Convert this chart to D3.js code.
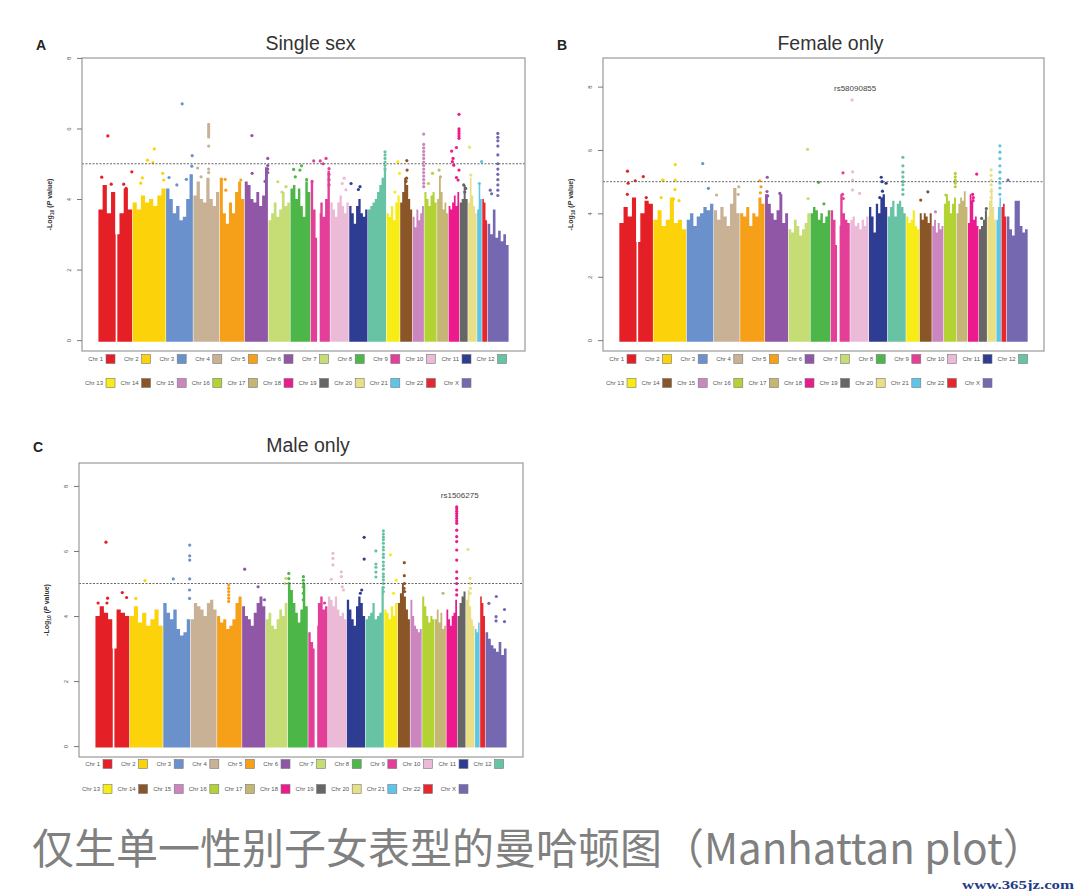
<!DOCTYPE html>
<html>
<head>
<meta charset="utf-8">
<script src="https://cdn.jsdelivr.net/npm/d3@7"></script>
<style>
  body { margin: 0; background: #fff; }
  svg { display: block; }
</style>
</head>
<body>
<svg id="fig" width="1080" height="891"></svg>
<script>
// chromosomes (hg19, Mb)
var chrNames = ["1","2","3","4","5","6","7","8","9","10","11","12","13","14","15","16","17","18","19","20","21","22","X"];
var chrLength = [249.25,243.2,198.0,191.15,180.9,171.1,159.1,146.4,141.2,135.5,135.0,133.85,115.2,107.35,102.5,90.35,81.2,78.1,59.1,63.0,48.1,51.3,155.3];
var chrStart = [0.5,0.5,0.5,0.5,0.5,0.5,0.5,0.5,0.5,0.5,0.5,0.5,19.0,19.05,20.0,0.5,0.5,0.5,0.5,0.5,14.5,16.0,0.5];
var chrGaps = [[1,128,140],[9,47,66]];
var yTicks = [0,2,4,6,8];
var threshold = 5;

// colours of the chromosomes (legend order)
var chrColors = ["#e41f26","#fcd20a","#6a91cc","#c8b194","#f6a01a","#8f57a5","#c6dc74","#4cb648","#e33f98","#ebbad7","#2e3c92","#68c3a4",
                 "#f8ec16","#8a5628","#cb86bf","#b3d335","#c6b676","#ec1a8d","#666666","#e8df86","#5ec5e6","#e7262d","#7568b1"];

// ---- A: single sex ----
var ylimA = 7.69;
var skyA = [
  [3.7,4.4,3.6,4.2,3.0,3.6,4.3,3.7],[3.9,3.7,4.1,3.9,4.0,3.8,4.1,4.3],[4.3,4.0,3.6,3.8,3.4,3.5,4.0,4.7],
  [4.1,4.5,4.0,3.9,4.6,4.0,3.8,4.2],[4.6,3.6,3.3,3.9,3.6,4.2,4.5,4.0],[4.5,4.4,4.0,3.9,4.2,3.8,4.1,4.9],
  [3.4,3.6,3.9,3.5,3.7,4.2,3.8,3.9],[4.3,4.4,4.0,4.3,3.8,3.5,4.5,4.2],[4.5,3.7,2.9,3.6,3.9,3.5,4.0,4.8],
  [3.9,3.7,3.5,3.9,4.1,3.8,3.6,3.9],[3.8,3.6,3.3,3.8,4.0,3.6,3.5,3.7],[3.7,3.8,3.9,4.0,4.2,4.4,4.6,4.9],
  [3.6,3.5,3.8,3.4,3.9,4.1],[3.9,4.2,4.6,4.4,4.0,3.7],[3.5,3.2,3.7,3.4,3.6,3.8],[4.2,4.0,3.8,4.1,4.2,3.9],
  [4.0,4.6,4.2,3.7,3.9,3.6],[3.8,3.7,3.9,4.1,3.8,4.2],[3.9,4.0,4.4,4.0],[3.9,4.6,4.1,3.8,3.6],
  [3.7,4.4,4.0],[4.0,3.9,3.4],[3.3,3.0,3.7,2.9,3.1,2.8,3.0,2.7]
];
var hitsA = [
  [1,70,5.79],[1,247,4.77],[1,25,4.62],[1,95,4.42],[1,187,4.42],[1,205,4.3],
  [2,160,5.42],[2,110,5.1],[2,150,5.03],[2,72,4.6],[2,222,4.73],[2,230,4.54],[2,60,4.45],
  [3,119,6.7],[3,193,5.23],[3,190,4.93],[3,22,4.61],[3,150,4.56],[3,80,4.4],
  [4,113,6.12],[4,113,6.06],[4,113,6.0],[4,113,5.94],[4,113,5.88],[4,113,5.82],[4,113,5.76],[4,113,5.5],[4,113,4.85],[4,113,4.75],[4,32,4.88],[4,57,4.63],
  [5,40,4.56],[5,156,4.54],[5,45,4.25],
  [6,53,5.8],[6,55,4.73],[6,170,5.15],[6,170,4.95],[6,170,4.85],[6,170,4.75],[6,150,4.5],
  [7,70,4.49],[7,130,4.35],[7,100,4.2],
  [8,24,4.84],[8,70,4.82],[8,82,4.94],[8,36,4.63],[8,120,4.55],
  [9,22,5.08],[9,70,5.08],[9,113,5.15],[9,91,5.0],[9,135,4.86],[9,135,4.7],[9,135,4.55],[9,135,4.4],[9,10,4.5],
  [10,102,4.59],[10,88,4.44],[10,115,4.26],
  [11,14,4.44],[11,68,4.27],[11,80,4.35],
  [12,126,5.34],[12,126,5.25],[12,126,5.15],[12,126,5.05],[12,126,4.95],[12,126,4.85],
  [13,102,5.06],[13,114,4.73],[13,80,4.2],
  [14,68,5.09],[14,70,4.82],[14,66,4.59],[14,62,4.5],
  [15,101,5.84],[15,101,5.55],[15,101,5.45],[15,101,5.35],[15,101,5.25],[15,101,5.15],[15,101,5.05],[15,101,4.95],[15,101,4.85],[15,101,4.75],[15,101,4.65],[15,101,4.55],[15,101,4.45],[15,101,4.35],
  [16,60,4.73],[16,30,4.44],
  [17,15,4.82],[17,25,4.63],
  [18,77,6.4],[18,77,5.99],[18,77,5.93],[18,77,5.86],[18,77,5.79],[18,77,5.72],[18,58,5.46],[18,23,5.36],[18,33,5.15],[18,28,5.06],[18,38,4.96],[18,77,4.82],[18,58,4.61],[18,70,4.54],
  [19,30,4.4],[19,45,4.3],[19,38,4.2],
  [20,10,5.47],[20,20,4.68],
  [21,47,5.06],[21,30,4.44],
  [23,76,5.86],[23,76,5.75],[23,76,5.65],[23,76,5.5],[23,76,5.25],[23,76,5.0],[23,76,4.85],[23,76,4.7],[23,76,4.55],[23,76,4.4],[23,76,4.25],[23,76,4.1],[23,20,4.25],[23,30,4.15]
];

// ---- B: female only ----
var ylimB = 8.56;
var skyB = [
  [3.7,4.2,3.9,4.5,3.1,4.0,4.4,4.3],[3.8,4.1,3.6,3.8,4.5,3.7,3.8,3.5],[3.8,4.0,3.6,3.9,4.0,4.2,4.1,4.3],
  [4.1,3.8,4.2,3.9,3.6,4.3,4.8,4.0],[4.0,3.9,4.2,3.6,4.0,3.9,4.5,4.3],[4.6,4.3,4.0,3.8,4.1,4.6,3.7,4.0],
  [3.5,3.4,3.8,3.6,3.3,3.5,3.7,4.0],[4.0,4.2,4.1,3.8,4.0,3.7,3.9,4.1],[4.1,3.8,3.0,3.6,4.6,4.0,3.8,3.7],
  [3.8,3.9,3.6,3.7,3.5,3.8,3.6,3.9],[4.2,3.9,3.4,4.3,4.0,4.5,4.6,4.2],[3.9,4.2,4.4,3.9,4.3,4.4,4.2,4.0],
  [3.9,3.7,3.8,4.1,3.6,3.5],[4.0,3.8,4.0,3.9,3.7,4.0],[3.6,3.8,3.4,3.7,3.5,3.6],[4.3,4.6,4.4,4.0,4.3,4.5],
  [4.0,4.3,4.5,4.4,4.7,4.2],[3.7,4.6,4.4,3.8,3.9,3.6],[3.5,3.6,3.8,4.1],[3.9,4.4,4.8,4.2,3.8],
  [3.8,4.2,4.5],[4.2,4.3,3.9],[3.9,3.5,3.3,4.4,4.4,3.6,3.4,3.5]
];
var hitsB = [
  [1,61,5.33],[1,118,5.03],[1,178,5.16],[1,66,4.95],[1,60,4.6],[1,200,4.5],
  [2,162,5.54],[2,68,5.05],[2,72,5.05],[2,162,5.05],[2,160,4.75],[2,58,4.5],[2,150,4.45],[2,190,4.4],
  [3,119,5.57],[3,161,4.79],
  [4,185,4.84],[4,20,4.58],[4,180,4.6],
  [5,145,5.03],[5,155,4.84],[5,150,4.65],
  [6,17,5.14],[6,15,4.69],[6,20,4.55],[6,110,4.63],
  [7,141,6.02],[7,145,4.47],
  [8,60,4.98],[8,100,4.3],
  [9,91,5.28],[9,93,4.47],[9,88,4.6],
  [10,14,7.58],[10,18,5.31],[10,18,5.05],[10,17,4.74],[10,70,4.63],
  [11,91,5.14],[11,97,5.0],[11,100,4.7],[11,80,4.5],[11,127,4.95],
  [12,113,5.77],[12,113,5.5],[12,113,5.3],[12,113,5.15],[12,113,5.0],[12,113,4.9],[12,113,4.75],[12,113,4.6],
  [14,26,4.42],[14,79,4.68],
  [15,44,4.05],
  [16,85,5.26],[16,85,5.15],[16,85,5.05],[16,85,4.95],[16,85,4.84],[16,15,4.58],
  [18,65,5.24],[18,35,4.6],[18,40,4.5],[18,38,4.4],
  [19,20,3.84],[19,55,4.15],
  [20,28,5.37],[20,28,5.2],[20,28,5.05],[20,28,4.9],[20,28,4.7],[20,28,4.5],
  [21,40.5,6.13],[21,40.5,5.93],[21,40.5,5.73],[21,40.5,5.5],[21,40.5,5.3],[21,40.5,5.1],[21,40.5,4.95],[21,40.5,4.8],[21,40.5,4.6],
  [23,10,5.05]
];
var labelB = { snp: "rs58090855", chr: 10, mb: 14, p: 7.58 };

// ---- C: male only ----
var ylimC = 8.37;
var skyC = [
  [4.0,4.3,4.1,3.9,3.0,4.2,4.1,4.0],[4.0,4.3,3.8,4.1,3.7,3.9,4.2,3.7],[4.4,4.1,3.9,4.2,3.6,3.4,3.5,3.9],
  [3.9,4.4,4.3,4.2,4.0,4.4,4.5,4.2],[4.0,3.8,3.9,3.6,3.7,3.9,4.4,4.6],[4.3,4.0,3.9,3.7,4.1,4.4,4.6,4.3],
  [3.9,4.1,3.7,3.6,3.9,4.2,4.0,4.4],[5.0,4.8,4.4,4.1,3.8,4.2,5.0,4.3],[3.5,3.2,3.0,3.7,4.4,4.6,4.2,4.3],
  [4.6,4.5,4.3,4.6,4.2,4.0,4.1,3.9],[4.5,4.2,3.9,3.7,4.3,4.6,4.4,4.0],[3.9,4.0,4.1,4.4,3.9,4.0,4.1,4.9],
  [4.2,4.1,3.9,4.3,4.0,4.4],[4.4,4.7,5.0,4.6,4.2,3.9],[4.5,4.0,3.7,3.6,3.5,3.6],[4.6,4.3,4.0,3.8,4.0,3.9],
  [3.9,4.2,3.8,4.1,3.6,3.7],[4.2,3.9,3.7,4.0,4.1,4.5],[4.0,4.4,4.6,4.75],[4.5,4.8,4.3,3.9,3.7],
  [3.6,3.5,3.8],[4.6,4.4,4.0],[3.5,3.3,3.1,3.0,2.9,3.2,2.8,3.0]
];
var hitsC = [
  [1,78,6.27],[1,90,4.55],[1,85,4.4],[1,198,4.72],[1,230,4.57],[1,20,4.4],
  [2,112,5.09],[2,45,4.54],
  [3,195,6.18],[3,195,5.85],[3,195,5.72],[3,195,5.14],[3,194,4.8],[3,194,4.54],[3,74,5.14],
  [5,86,4.95],[5,86,4.85],[5,86,4.75],[5,86,4.65],[5,86,4.55],[5,86,4.45],
  [6,19,5.44],[6,118,4.9],[6,165,4.5],
  [7,147,5.16],[7,140,5.0],
  [8,7,5.31],[8,7,5.15],[8,8,5.0],[8,114,5.21],[8,114,5.1],[8,114,5.0],[8,114,4.9],[8,114,4.7],[8,114,4.5],
  [9,120,4.4],
  [10,37,5.93],[10,37,5.77],[10,37,5.57],[10,99,5.36],[10,99,5.21],[10,106,4.9],[10,115,4.8],[10,25,5.13],
  [11,128,6.42],[11,128,5.75],[11,110,4.8],[11,100,4.7],
  [12,76,6.0],[12,76,5.6],[12,76,5.5],[12,76,5.35],[12,76,5.2],
  [12,131,6.62],[12,131,6.52],[12,131,6.43],[12,131,6.35],[12,131,6.24],[12,131,6.12],[12,131,6.03],[12,131,5.9],[12,131,5.8],[12,131,5.66],[12,131,5.55],
  [12,131,5.44],[12,131,5.3],[12,131,5.21],[12,131,5.11],[12,131,5.0],[12,131,4.88],[12,131,4.75],
  [13,64,5.88],[13,107,5.1],[13,87,4.7],
  [14,66,5.64],[14,66,5.24],[14,67,5.0],[14,64,4.85],[14,68,4.75],
  [17,60,4.7],
  [18,76,7.36],[18,76,7.3],[18,76,7.22],[18,76,7.15],[18,76,7.08],[18,76,7.0],[18,76,6.92],[18,76,6.85],[18,76,6.64],[18,76,6.44],
  [18,76,6.29],[18,76,6.03],[18,76,5.72],[18,76,5.36],[18,76,5.16],[18,76,5.0],[18,76,4.8],[18,76,4.65],
  [20,15,6.05],[20,30,5.16],[20,32,5.0],[20,33,4.85],[20,30,4.7],
  [23,25,4.39],[23,80,4.6],[23,78,3.98],[23,78,3.85],[23,140,4.2],[23,140,3.83]
];
var labelC = { snp: "rs1506275", chr: 18, mb: 76, p: 7.36 };

// genome layout
var gapMb = 4;
var spans = chrLength.map(function(L, i) { return L - chrStart[i]; });
var offsets = [];
var acc = 0;
spans.forEach(function(s, i) { offsets.push(acc); acc += s + (i < spans.length - 1 ? gapMb : 0); });
var total = acc;
function gpos(chr, mb) { return offsets[chr - 1] + (mb - chrStart[chr - 1]); }

var svg = d3.select("#fig");
var sans = "Liberation Sans, Arial, sans-serif";

var panels = [
  { letter: "A", title: "Single sex", sky: skyA, hits: hitsA, ylim: ylimA, label: null,
    left: 82, top: 58, right: 525, bottom: 351, legendY: [359, 383], titleY: 49.5 },
  { letter: "B", title: "Female only", sky: skyB, hits: hitsB, ylim: ylimB, label: labelB,
    left: 603, top: 58, right: 1044, bottom: 351, legendY: [359, 383], titleY: 49.5 },
  { letter: "C", title: "Male only", sky: skyC, hits: hitsC, ylim: ylimC, label: labelC,
    left: 79, top: 463, right: 523, bottom: 757, legendY: [764, 789], titleY: 451.5 }
];

panels.forEach(function(P) {
  var g = svg.append("g");
  var x = d3.scaleLinear().domain([-0.04 * total, 1.04 * total]).range([P.left, P.right]);
  var y = d3.scaleLinear().domain([-0.04 * P.ylim, 1.04 * P.ylim]).range([P.bottom, P.top]);

  // panel letter and title
  g.append("text").attr("x", P.left - 46).attr("y", P.titleY)
    .attr("font-family", sans).attr("font-weight", "bold")
    .attr("font-size", 14).attr("fill", "#222").text(P.letter);
  g.append("text").attr("x", (P.left + P.right) / 2 + 7).attr("y", P.titleY)
    .attr("text-anchor", "middle").attr("font-family", sans)
    .attr("font-size", 19.5).attr("fill", "#333").text(P.title);

  // chromosome bodies
  var area = d3.area().curve(d3.curveStepAfter)
    .x(function(d) { return x(d[0]); })
    .y0(y(0) + 1.5)
    .y1(function(d) { return y(d[1]); });
  P.sky.forEach(function(vals, i) {
    var n = vals.length;
    var pts = vals.map(function(v, k) { return [offsets[i] + k * spans[i] / n, v]; });
    pts.push([offsets[i] + spans[i], vals[n - 1]]);
    g.append("path").datum(pts).attr("fill", chrColors[i]).attr("d", area);
  });

  // centromere gaps
  chrGaps.forEach(function(c) {
    g.append("rect").attr("x", x(gpos(c[0], c[1]))).attr("width", x(gpos(c[0], c[2])) - x(gpos(c[0], c[1])))
      .attr("y", P.top + 2).attr("height", y(0) - P.top).attr("fill", "#fff");
  });

  // top SNPs
  g.selectAll("circle.hit").data(P.hits).enter().append("circle")
    .attr("class", "hit")
    .attr("cx", function(d) { return x(gpos(d[0], d[1])); })
    .attr("cy", function(d) { return y(d[2]); })
    .attr("r", 1.6)
    .attr("fill", function(d) { return chrColors[d[0] - 1]; });

  // suggestive line
  g.append("line").attr("x1", P.left).attr("x2", P.right).attr("y1", y(threshold)).attr("y2", y(threshold))
    .attr("stroke", "#555").attr("stroke-width", 0.9).attr("stroke-dasharray", "2,1.5");

  // frame
  g.append("rect").attr("x", P.left).attr("y", P.top).attr("width", P.right - P.left).attr("height", P.bottom - P.top)
    .attr("fill", "none").attr("stroke", "#9a9a9a").attr("stroke-width", 1.2);

  // y axis, rotated labels as in base R
  var ax = g.append("g").attr("transform", "translate(" + P.left + ",0)")
    .call(d3.axisLeft(y).tickValues(yTicks).tickSize(5));
  ax.select(".domain").remove();
  ax.selectAll("line").attr("stroke", "#777");
  ax.selectAll(".tick text").attr("font-family", sans).attr("font-size", 6).attr("fill", "#555")
    .attr("transform", "translate(-13,0) rotate(-90)").attr("x", 0).attr("y", 0)
    .attr("dy", "0.32em").attr("text-anchor", "middle");

  var yl = g.append("text").attr("transform", "translate(" + (P.left - 30) + "," + ((P.top + P.bottom) / 2) + ") rotate(-90)")
    .attr("text-anchor", "middle").attr("font-family", sans)
    .attr("font-size", 7).attr("font-weight", "bold").attr("fill", "#333");
  yl.append("tspan").text("-Log");
  yl.append("tspan").attr("font-size", 5).attr("dy", 1.8).text("10");
  yl.append("tspan").attr("dy", -1.8).text(" (");
  yl.append("tspan").attr("font-style", "italic").text("P");
  yl.append("tspan").text(" value)");

  // annotated SNP
  if (P.label) {
    g.append("text").attr("x", x(gpos(P.label.chr, P.label.mb)) + 3).attr("y", y(P.label.p) - 9)
      .attr("text-anchor", "middle").attr("font-family", sans)
      .attr("font-size", 8).attr("fill", "#444").text(P.label.snp);
  }

  // legend
  chrNames.forEach(function(nm, i) {
    var row = i < 12 ? 0 : 1;
    var k = i < 12 ? i : i - 12;
    var bx = P.left + 24 + k * 35.6;
    var by = P.legendY[row];
    g.append("rect").attr("x", bx).attr("y", by - 4.5).attr("width", 9).attr("height", 9)
      .attr("fill", chrColors[i]).attr("stroke", "#777").attr("stroke-width", 0.6);
    g.append("text").attr("x", bx - 3).attr("y", by + 2).attr("text-anchor", "end")
      .attr("font-family", sans).attr("font-size", 6).attr("fill", "#555")
      .text("Chr " + nm);
  });
});

// caption and watermark
svg.append("text").attr("x", 32).attr("y", 864)
  .attr("font-family", "Noto Sans CJK SC, sans-serif").attr("font-size", 42).attr("fill", "#808080")
  .text("仅生单一性别子女表型的曼哈顿图（Manhattan plot）");
svg.append("text").attr("x", 962).attr("y", 889)
  .attr("font-family", "Liberation Serif, serif").attr("font-weight", "bold").attr("font-size", 13).attr("fill", "#1f3c88")
  .attr("textLength", 112).attr("lengthAdjust", "spacingAndGlyphs")
  .text("www.365jz.com");
</script>
</body>
</html>
